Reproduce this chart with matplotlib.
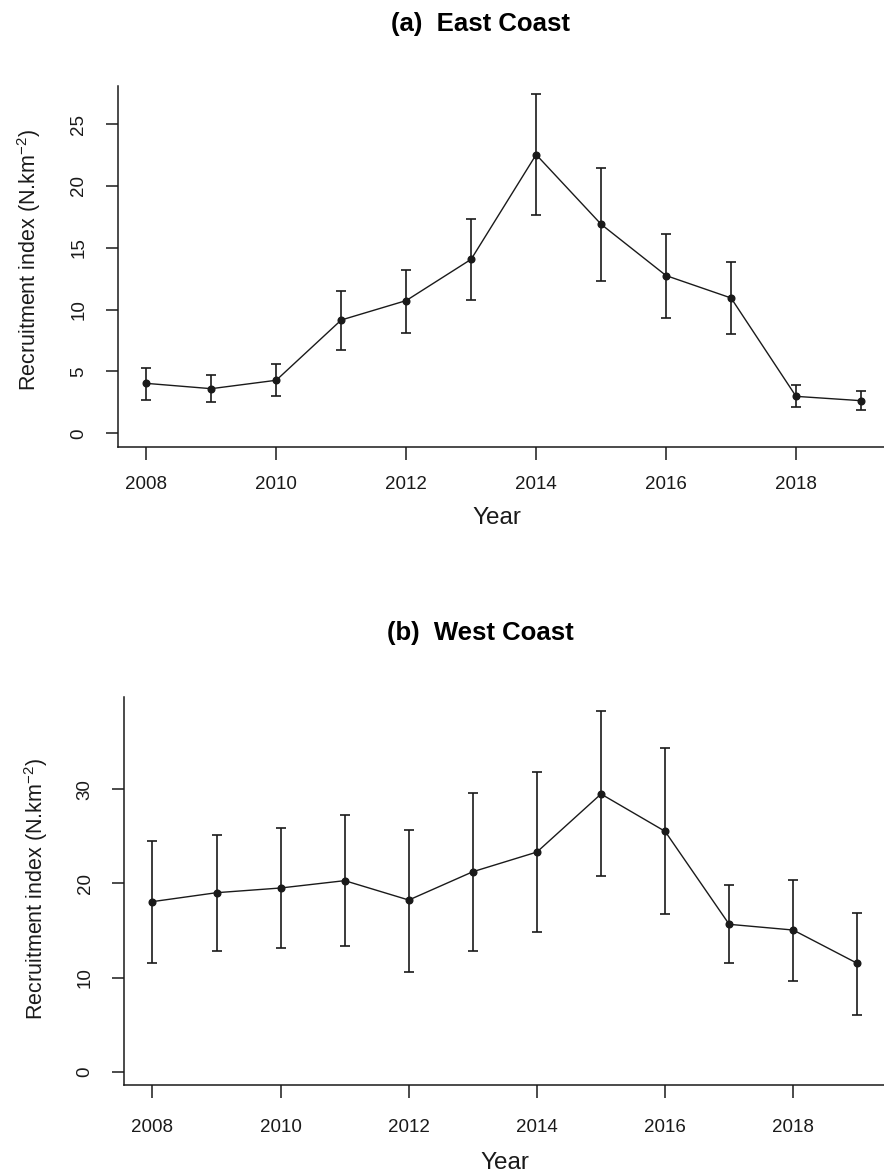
import matplotlib
matplotlib.use("Agg")
import matplotlib.pyplot as plt

plt.rcParams['font.family'] = ['Liberation Sans', 'DejaVu Sans']

years = [2008, 2009, 2010, 2011, 2012, 2013, 2014, 2015, 2016, 2017, 2018, 2019]

# (a) East Coast
east_mean = [4.04, 3.61, 4.29, 9.16, 10.73, 14.07, 22.53, 16.90, 12.75, 10.94, 2.99, 2.64]
east_upper = [5.31, 4.74, 5.58, 11.51, 13.23, 17.36, 27.41, 21.48, 16.12, 13.83, 3.88, 3.42]
east_lower = [2.70, 2.56, 3.02, 6.77, 8.11, 10.75, 17.68, 12.34, 9.35, 8.03, 2.10, 1.89]

# (b) West Coast
west_mean = [18.07, 19.02, 19.52, 20.30, 18.24, 21.25, 23.34, 29.51, 25.54, 15.66, 15.05, 11.51]
west_upper = [24.51, 25.15, 25.89, 27.24, 25.72, 29.58, 31.81, 38.29, 34.36, 19.80, 20.40, 16.90]
west_lower = [11.58, 12.82, 13.11, 13.39, 10.63, 12.86, 14.81, 20.76, 16.72, 11.51, 9.60, 6.06]

x_ticks = [2008, 2010, 2012, 2014, 2016, 2018]
east_yticks = [0, 5, 10, 15, 20, 25]
west_yticks = [0, 10, 20, 30]

W, H = 884, 1176
ink = '#1a1a1a'
fig = plt.figure(figsize=(W / 100, H / 100), dpi=100)


def px_axes(left, right, top, bottom):
    return fig.add_axes([left / W, 1 - bottom / H, (right - left) / W, (bottom - top) / H])


def draw_panel(ax, mean, lower, upper, ylim, yticks, xpad, ypad):
    yerr = [[m - lo for m, lo in zip(mean, lower)], [up - m for m, up in zip(mean, upper)]]
    ax.errorbar(years, mean, yerr=yerr, fmt='-o', color=ink, ecolor=ink, lw=1.0,
                elinewidth=1.2, capsize=3.3, capthick=1.2, markersize=4.8)
    ax.set_xlim(2007.56, 2019.44)
    ax.set_ylim(*ylim)
    ax.set_xticks(x_ticks)
    ax.set_yticks(yticks)
    for side in ['top', 'right']:
        ax.spines[side].set_visible(False)
    for side in ['left', 'bottom']:
        ax.spines[side].set_linewidth(1.1)
        ax.spines[side].set_color(ink)
    ax.tick_params(axis='both', direction='out', length=9, width=1.1, color=ink,
                   labelsize=13.5, labelcolor=ink)
    ax.tick_params(axis='x', pad=xpad)
    ax.tick_params(axis='y', pad=ypad)
    for lab in ax.get_yticklabels():
        lab.set_rotation(90)
        lab.set_va('center')


ax1 = px_axes(117.7, 889.6, 85.7, 446.7)
draw_panel(ax1, east_mean, east_lower, east_upper, (-1.08, 28.1), east_yticks, 12, 13)

ax2 = px_axes(124.3, 885.5, 696.7, 1085.3)
draw_panel(ax2, west_mean, west_lower, west_upper, (-1.45, 39.85), west_yticks, 15, 13)

ylab = 'Recruitment index (N.km$^{\\mathregular{-2}}$)'
fig.text(481 / W, 1 - 24 / H, '(a)  East Coast', ha='center', va='center',
         fontsize=18.5, fontweight='bold', color='black')
fig.text(480 / W, 1 - 633 / H, '(b)  West Coast', ha='center', va='center',
         fontsize=18.5, fontweight='bold', color='black')
fig.text(497 / W, 1 - 518 / H, 'Year', ha='center', va='center', fontsize=17.5, color=ink)
fig.text(505 / W, 1 - 1163 / H, 'Year', ha='center', va='center', fontsize=17.5, color=ink)
fig.text(29 / W, 1 - 260 / H, ylab, ha='center', va='center', rotation=90, fontsize=15.5, color=ink)
fig.text(36 / W, 1 - 889 / H, ylab, ha='center', va='center', rotation=90, fontsize=15.5, color=ink)

fig.savefig('out.png', dpi=100)
